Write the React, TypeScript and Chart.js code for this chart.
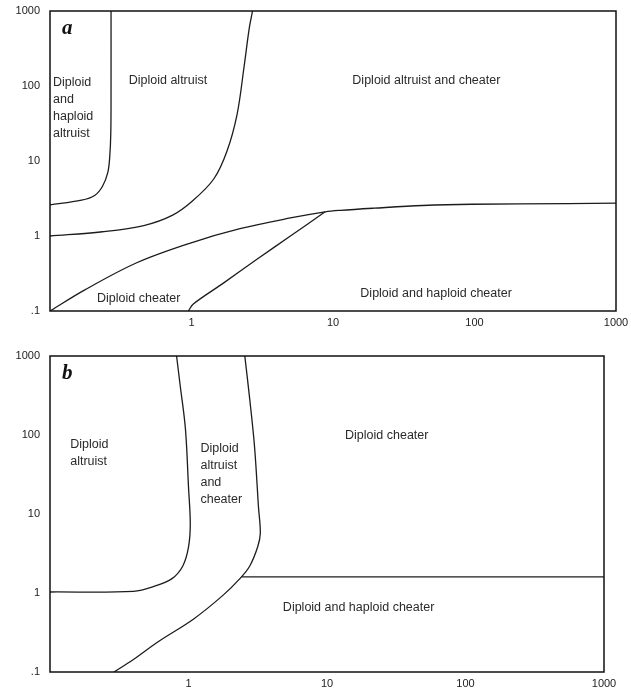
import React, { useEffect, useRef } from "react";
import { Chart, registerables } from "chart.js";

Chart.register(...registerables);

// Axis ticks (both axes log scale, 0.1 .. 1000)
const tickValues = [0.1, 1, 10, 100, 1000];
const xTickLabels = ["", "1", "10", "100", "1000"];
const yTickLabels = [".1", "1", "10", "100", "1000"];

// Panel a boundary curves
const a1X = [0.1, 0.167, 0.208, 0.235, 0.256, 0.264, 0.269, 0.27, 0.27];
const a1Y = [2.6, 3.0, 3.5, 4.6, 7.0, 11, 24, 100, 1000];

const a2X = [0.1, 0.235, 0.46, 0.736, 1.03, 1.44, 1.78, 2.1, 2.35, 2.56, 2.7];
const a2Y = [1.0, 1.14, 1.38, 1.9, 3.0, 5.8, 13.5, 42, 178, 590, 1000];

const a3X = [0.1, 0.175, 0.41, 0.97, 2.2, 5.0, 8.8, 11.3, 19.5, 43, 96, 460, 1000];
const a3Y = [0.1, 0.19, 0.44, 0.8, 1.25, 1.74, 2.1, 2.2, 2.35, 2.55, 2.65, 2.7, 2.75];

const a4X = [0.95, 1.03, 1.69, 2.9, 5.0, 8.8];
const a4Y = [0.1, 0.124, 0.237, 0.49, 1.0, 2.1];

// Panel b boundary curves
const b1X = [0.1, 0.4, 0.57, 0.76, 0.91, 1.0, 1.03, 1.0, 0.95, 0.87, 0.82];
const b1Y = [1.03, 1.05, 1.22, 1.52, 2.2, 3.8, 7.5, 22, 120, 430, 1000];

const b2X = [0.29, 0.4, 0.6, 1.09, 1.78, 2.35, 2.77, 3.16, 3.3, 3.2, 3.0, 2.77, 2.55];
const b2Y = [0.1, 0.144, 0.24, 0.47, 0.94, 1.52, 2.2, 3.85, 5.7, 12.3, 70, 280, 1000];

const b3X = [2.42, 1000];
const b3Y = [1.6, 1.6];

// Region labels (data coordinates of first line's left edge)
const aLabelTexts = [
  ["Diploid", "and", "haploid", "altruist"],
  ["Diploid altruist"],
  ["Diploid altruist and cheater"],
  ["Diploid cheater"],
  ["Diploid and haploid cheater"],
];
const aLabelX = [0.105, 0.36, 13.7, 0.215, 15.6];
const aLabelY = [110, 118, 118, 0.148, 0.17];

const bLabelTexts = [
  ["Diploid", "altruist"],
  ["Diploid", "altruist", "and", "cheater"],
  ["Diploid cheater"],
  ["Diploid and haploid cheater"],
];
const bLabelX = [0.14, 1.22, 13.5, 4.8];
const bLabelY = [76, 68, 97, 0.66];

const LINE_COLOR = "#1c1c1c";
const TEXT_COLOR = "#2a2a2a";

function pts(xs: number[], ys: number[]) {
  return xs.map((x, i) => ({ x, y: ys[i] }));
}

function makeConfig(
  curves: { x: number[]; y: number[] }[],
  labelTexts: string[][],
  labelX: number[],
  labelY: number[],
  letter: string,
  pad: { top: number; right: number },
  xAxisHeight: number
): any {
  const framePlugin = {
    id: "frameAndText",
    afterDatasetsDraw(chart: any) {
      const { ctx, chartArea, scales } = chart;
      ctx.save();
      ctx.strokeStyle = "#111";
      ctx.lineWidth = 1.5;
      ctx.strokeRect(
        chartArea.left,
        chartArea.top,
        chartArea.right - chartArea.left,
        chartArea.bottom - chartArea.top
      );
      ctx.fillStyle = TEXT_COLOR;
      ctx.font = '12.5px "Liberation Sans", Arial, sans-serif';
      ctx.textAlign = "left";
      ctx.textBaseline = "middle";
      labelTexts.forEach((lines, i) => {
        const px = scales.x.getPixelForValue(labelX[i]);
        const py = scales.y.getPixelForValue(labelY[i]);
        lines.forEach((t, j) => ctx.fillText(t, px, py + j * 17));
      });
      ctx.font = 'italic bold 21px "Liberation Serif", "Times New Roman", serif';
      ctx.fillStyle = "#111";
      ctx.fillText(letter, chartArea.left + 12, chartArea.top + 18);
      ctx.restore();
    },
  };

  const tickFont = { family: '"Liberation Sans", Arial, sans-serif', size: 11 };

  return {
    type: "scatter",
    data: {
      datasets: curves.map((c) => ({
        data: pts(c.x, c.y),
        showLine: true,
        borderColor: LINE_COLOR,
        borderWidth: 1.3,
        pointRadius: 0,
        tension: 0.35,
        fill: false,
      })),
    },
    options: {
      animation: false,
      responsive: false,
      events: [],
      layout: { padding: { top: pad.top, right: pad.right, left: 0, bottom: 0 } },
      plugins: { legend: { display: false }, tooltip: { enabled: false } },
      scales: {
        x: {
          type: "logarithmic",
          min: 0.1,
          max: 1000,
          afterBuildTicks: (s: any) => {
            s.ticks = tickValues.map((v) => ({ value: v }));
          },
          afterFit: (s: any) => {
            s.height = xAxisHeight;
            s.paddingLeft = 0;
            s.paddingRight = 0;
            s.paddingTop = 0;
            s.paddingBottom = 0;
          },
          grid: { display: false, drawTicks: false },
          border: { display: false },
          ticks: {
            autoSkip: false,
            maxRotation: 0,
            padding: 5,
            color: "#222",
            font: tickFont,
            callback: (_v: any, i: number) => xTickLabels[i],
          },
        },
        y: {
          type: "logarithmic",
          min: 0.1,
          max: 1000,
          afterBuildTicks: (s: any) => {
            s.ticks = tickValues.map((v) => ({ value: v }));
          },
          afterFit: (s: any) => {
            s.width = 50;
            s.paddingLeft = 0;
            s.paddingRight = 0;
            s.paddingTop = 0;
            s.paddingBottom = 0;
          },
          grid: { display: false, drawTicks: false },
          border: { display: false },
          ticks: {
            autoSkip: false,
            padding: 10,
            color: "#222",
            font: tickFont,
            callback: (_v: any, i: number) => yTickLabels[i],
          },
        },
      },
    },
    plugins: [framePlugin],
  };
}

function Panel(props: { config: any; top: number; height: number }) {
  const ref = useRef<HTMLCanvasElement | null>(null);
  useEffect(() => {
    if (!ref.current) return;
    const chart = new Chart(ref.current, props.config);
    return () => chart.destroy();
  }, []);
  return (
    <canvas
      ref={ref}
      width={631}
      height={props.height}
      style={{ position: "absolute", left: 0, top: props.top, width: 631, height: props.height, display: "block" }}
    />
  );
}

export default function App() {
  const configA = makeConfig(
    [
      { x: a1X, y: a1Y },
      { x: a2X, y: a2Y },
      { x: a3X, y: a3Y },
      { x: a4X, y: a4Y },
    ],
    aLabelTexts,
    aLabelX,
    aLabelY,
    "a",
    { top: 11, right: 15 },
    19
  );
  const configB = makeConfig(
    [
      { x: b1X, y: b1Y },
      { x: b2X, y: b2Y },
      { x: b3X, y: b3Y },
    ],
    bLabelTexts,
    bLabelX,
    bLabelY,
    "b",
    { top: 16, right: 27 },
    27
  );
  return (
    <div style={{ position: "absolute", left: 0, top: 0, width: 631, height: 699, background: "#fff" }}>
      <Panel config={configA} top={0} height={330} />
      <Panel config={configB} top={340} height={359} />
    </div>
  );
}
